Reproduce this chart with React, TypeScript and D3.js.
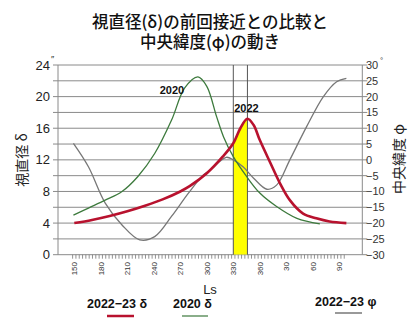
import React from "react";
import * as d3 from "d3";

// ---- data ----
const red2022Ls = [150, 170, 190, 210, 230, 250, 270, 281, 300, 318, 330, 338, 346, 353, 360, 372, 383, 394, 409, 424, 439, 458];
const red2022Delta = [4.0, 4.4, 4.9, 5.5, 6.2, 7.0, 8.0, 8.7, 10.3, 12.4, 14.1, 16.0, 17.2, 16.4, 14.5, 11.6, 9.0, 6.9, 5.2, 4.6, 4.2, 4.0];

const green2020Ls = [149, 166, 185, 204, 222, 241, 260, 275, 290, 300, 311, 319, 330, 345, 360, 379, 402, 428];
const green2020Delta = [5.0, 5.9, 6.9, 8.0, 9.9, 12.8, 17.0, 21.1, 22.5, 21.3, 17.5, 14.9, 12.4, 9.9, 7.8, 6.1, 4.6, 3.9];

const grayPhiLs = [149, 166, 185, 204, 224, 241, 260, 279, 296, 304, 322, 330, 341, 353, 368, 379, 394, 413, 432, 447, 458];
const grayPhi = [5.2, -2.2, -13.7, -20.6, -25.3, -24.3, -17.9, -10.6, -4.8, -3.2, 0.8, 0, -2.2, -5.8, -9.3, -8.0, 0, 10.5, 20, 24.7, 25.8];

const xTickValues = [150, 180, 210, 240, 270, 300, 330, 360, 390, 420, 450];
const xTickLabels = ["150", "180", "210", "240", "270", "300", "330", "360", "30", "60", "90"];
const leftTicks = [0, 4, 8, 12, 16, 20, 24];
const rightTicks = [30, 25, 20, 15, 10, 5, 0, -5, -10, -15, -20, -25, -30];
const bandLs = [330, 346];

const titleLines = ["視直径(δ)の前回接近との比較と", "中央緯度(φ)の動き"];

export default function App() {
  const W = 417, H = 323;
  const left = 58, right = 362.3, top = 65, bottom = 254.7;
  const x = d3.scaleLinear().domain([150, 450]).range([74.3, 339.3]);
  const yL = d3.scaleLinear().domain([0, 24]).range([bottom, top]);
  const yR = d3.scaleLinear().domain([-30, 30]).range([bottom, top]);

  const curve = d3.curveCatmullRom.alpha(0.5);
  const lineL = d3.line<[number, number]>().x(d => x(d[0])).y(d => yL(d[1])).curve(curve);
  const lineR = d3.line<[number, number]>().x(d => x(d[0])).y(d => yR(d[1])).curve(curve);
  const areaL = d3.area<[number, number]>().x(d => x(d[0])).y0(bottom).y1(d => yL(d[1])).curve(curve);

  const red = red2022Ls.map((l, i) => [l, red2022Delta[i]] as [number, number]);
  const green = green2020Ls.map((l, i) => [l, green2020Delta[i]] as [number, number]);
  const gray = grayPhiLs.map((l, i) => [l, grayPhi[i]] as [number, number]);

  const gridVals = d3.range(0, 25, 2);
  const minorTicks = d3.range(148.1, 459, 3.75);

  const num = "'Liberation Sans', Arial, sans-serif";
  const jp = "'Noto Sans CJK JP', sans-serif";

  return (
    <svg width={W} height={H} style={{ position: "absolute", left: 0, top: 0, background: "#fff" }}>
      <defs>
        <clipPath id="band">
          <rect x={x(bandLs[0])} y={top} width={x(bandLs[1]) - x(bandLs[0])} height={bottom - top} />
        </clipPath>
      </defs>
      {/* title */}
      <text x={210} y={28} textAnchor="middle" fontFamily={jp} fontSize={16.5} fontWeight={500} fill="#111">
        {titleLines.map((t, i) => (
          <tspan key={i} x={210} dy={i === 0 ? 0 : 20}>{t}</tspan>
        ))}
      </text>

      {/* grid */}
      {gridVals.map(v => (
        <line key={v} x1={left - 5} x2={right + 5} y1={yL(v)} y2={yL(v)} stroke="#8a8a8a" strokeWidth={1} />
      ))}
      <line x1={left} x2={left} y1={top} y2={bottom} stroke="#8a8a8a" />
      <line x1={right} x2={right} y1={top} y2={bottom} stroke="#8a8a8a" />

      {/* yellow band */}
      <path d={areaL(red) || ""} fill="#ffff00" clipPath="url(#band)" />
      {bandLs.map(l => (
        <line key={l} x1={x(l)} x2={x(l)} y1={top} y2={bottom} stroke="#555" strokeWidth={1} />
      ))}

      {/* x minor ticks */}
      {minorTicks.map((l, i) => (
        <line key={i} x1={x(l)} x2={x(l)} y1={bottom} y2={bottom + 4} stroke="#777" strokeWidth={0.8} />
      ))}
      {xTickValues.map((l, i) => (
        <text key={l} transform={`translate(${x(l) + 3},${262}) rotate(-90)`} textAnchor="end" fontFamily={num} fontSize={8} fill="#333">{xTickLabels[i]}</text>
      ))}

      {/* left ticks */}
      {leftTicks.map(v => (
        <text key={v} x={50} y={yL(v) + 4.5} textAnchor="end" fontFamily={num} fontSize={13} fill="#222">{v}</text>
      ))}
      <text x={51} y={62} fontFamily={num} fontSize={9} fill="#222">″</text>
      {/* right ticks */}
      {rightTicks.map(v => (
        <text key={v} x={366} y={yR(v) + 4} fontFamily={num} fontSize={11} fill="#333">{v < 0 ? "−" + Math.abs(v) : String(v)}</text>
      ))}
      <text x={380} y={63} fontFamily={num} fontSize={8} fill="#333">°</text>

      {/* axis titles */}
      <text transform={`translate(27,160) rotate(-90)`} textAnchor="middle" fontFamily={jp} fontSize={14} fill="#222">視直径 δ</text>
      <text transform={`translate(404,159) rotate(-90)`} textAnchor="middle" fontFamily={jp} fontSize={14} fill="#222">中央緯度 φ</text>

      {/* curves */}
      <path d={lineR(gray) || ""} fill="none" stroke="#777" strokeWidth={1.3} />
      <path d={lineL(green) || ""} fill="none" stroke="#3d7a3d" strokeWidth={1.3} />
      <path d={lineL(red) || ""} fill="none" stroke="#b8122e" strokeWidth={2.6} />

      {/* annotations */}
      <text x={172} y={94} textAnchor="middle" fontFamily={num} fontSize={11} fontWeight="bold" fill="#111">2020</text>
      <text x={246.5} y={111.5} textAnchor="middle" fontFamily={num} fontSize={11} fontWeight="bold" fill="#111">2022</text>

      {/* x label and legend */}
      <text x={210} y={294} textAnchor="middle" fontFamily={num} fontSize={13} fill="#222">Ls</text>
      <text x={87} y={308} fontFamily={num} fontSize={12.5} fontWeight="bold" fill="#111">2022−23 δ</text>
      <line x1={107} x2={134} y1={316} y2={316} stroke="#b8122e" strokeWidth={2.5} />
      <text x={173} y={308} fontFamily={num} fontSize={12.5} fontWeight="bold" fill="#111">2020 δ</text>
      <line x1={182} x2={208} y1={316} y2={316} stroke="#3d7a3d" strokeWidth={1.5} opacity={0.8} />
      <text x={315} y={306} fontFamily={num} fontSize={12.5} fontWeight="bold" fill="#111">2022−23 φ</text>
      <line x1={335} x2={362} y1={313} y2={313} stroke="#777" strokeWidth={1.5} />
    </svg>
  );
}
